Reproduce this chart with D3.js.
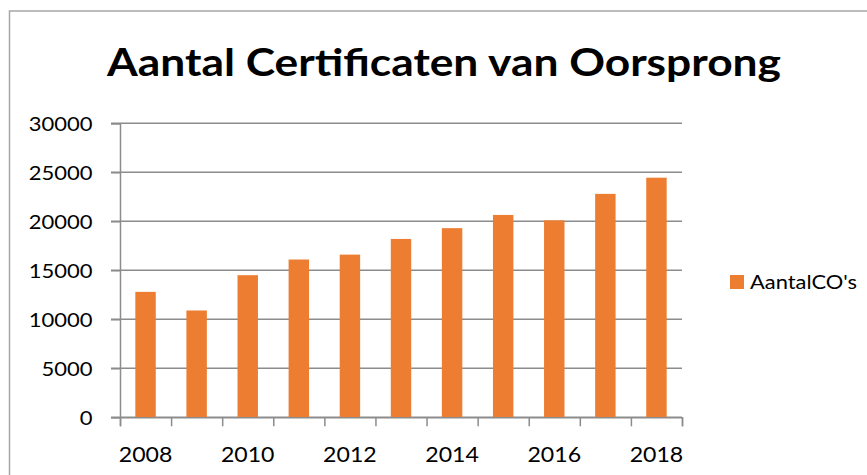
<!DOCTYPE html>
<html>
<head>
<meta charset="utf-8">
<script src="https://cdn.jsdelivr.net/npm/d3@7"></script>
<style>
  html, body { margin: 0; padding: 0; background: #ffffff; }
  svg { display: block; }
  text { font-family: Lato, "Open Sans", sans-serif; fill: #000; }
</style>
</head>
<body>
<svg id="chart" width="867" height="475"></svg>
<script>
const title = "Aantal Certificaten van Oorsprong";
const seriesName = "AantalCO's";
const years = ["2008","2009","2010","2011","2012","2013","2014","2015","2016","2017","2018"];
const values = [12800, 10900, 14500, 16100, 16600, 18200, 19300, 20650, 20100, 22800, 24450];
const yTicks = [0, 5000, 10000, 15000, 20000, 25000, 30000];
const xLabels = ["2008","2010","2012","2014","2016","2018"];

const W = 867, H = 475;
const plot = { left: 120, right: 682, top: 123.3, bottom: 417.3 };
const barColor = "#ED7D31";
const gridColor = "#8c8c8c";

const svg = d3.select("#chart");

// stretch text horizontally to mimic the reference's wider glyphs
function stretch(sel, factor) {
  sel.each(function() {
    const n = this.getComputedTextLength();
    d3.select(this).attr("textLength", n * factor).attr("lengthAdjust", "spacingAndGlyphs");
  });
}

// outer chart border
svg.append("rect")
  .attr("x", 9.5).attr("y", 11)
  .attr("width", 900).attr("height", 520)
  .attr("fill", "none").attr("stroke", "#a6a6a6").attr("stroke-width", 1.5);

// title
const t = svg.append("text")
  .attr("x", 444).attr("y", 75.5)
  .attr("text-anchor", "middle")
  .attr("font-size", 38.5).attr("font-weight", "bold")
  .text(title);
t.attr("textLength", 674).attr("lengthAdjust", "spacingAndGlyphs");

// scales
const y = d3.scaleLinear().domain([0, 30000]).range([plot.bottom, plot.top]);
const x = d3.scaleBand().domain(years).range([plot.left, plot.right])
  .paddingInner(0.6).paddingOuter(0.3);
const xb = d3.scaleLinear().domain([0, years.length]).range([plot.left, plot.right]);

// gridlines
svg.append("g").selectAll("line").data(yTicks).join("line")
  .attr("x1", plot.left - 9).attr("x2", plot.right)
  .attr("y1", d => y(d)).attr("y2", d => y(d))
  .attr("stroke", gridColor).attr("stroke-width", 1.5);

// y axis
const yAxis = svg.append("g")
  .attr("transform", `translate(${plot.left},0)`)
  .call(d3.axisLeft(y).tickValues(yTicks).tickSize(9).tickPadding(18.5).tickFormat(d3.format("d")));
yAxis.select(".domain").attr("stroke", gridColor).attr("stroke-width", 1.5);
yAxis.selectAll(".tick line").attr("stroke", gridColor).attr("stroke-width", 1.5);
yAxis.selectAll("text").attr("font-size", 20).attr("dy", "0.36em")
  .style("font-family", "Lato, 'Open Sans', sans-serif").attr("fill", "#000");
stretch(yAxis.selectAll("text"), 1.1);

// bars
svg.append("g").selectAll("rect").data(values).join("rect")
  .attr("x", (d, i) => x(years[i]))
  .attr("width", x.bandwidth())
  .attr("y", d => y(d))
  .attr("height", d => y(0) - y(d))
  .attr("fill", barColor);

// x axis (ticks at category boundaries)
const xAxis = svg.append("g")
  .attr("transform", `translate(0,${plot.bottom})`)
  .call(d3.axisBottom(xb).tickValues(d3.range(years.length + 1)).tickSize(9).tickFormat(""));
xAxis.select(".domain").attr("stroke", gridColor).attr("stroke-width", 1.5);
xAxis.selectAll(".tick line").attr("stroke", gridColor).attr("stroke-width", 1.5);

const xl = svg.append("g").selectAll("text").data(xLabels).join("text")
  .attr("x", d => x(d) + x.bandwidth() / 2)
  .attr("y", 461.5)
  .attr("text-anchor", "middle")
  .attr("font-size", 21)
  .text(d => d);
stretch(xl, 1.1);

// legend
const lg = svg.append("g");
lg.append("rect").attr("x", 730).attr("y", 275).attr("width", 14).attr("height", 14).attr("fill", barColor);
const lt = lg.append("text").attr("x", 750).attr("y", 288.5).attr("font-size", 18.5).text(seriesName);
lt.attr("textLength", 107).attr("lengthAdjust", "spacingAndGlyphs");
</script>
</body>
</html>
